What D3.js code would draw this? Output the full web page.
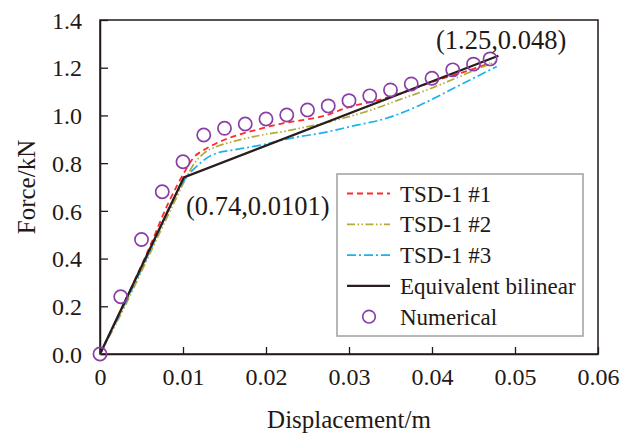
<!DOCTYPE html>
<html>
<head>
<meta charset="utf-8">
<script src="https://cdn.jsdelivr.net/npm/d3@7"></script>
<style>
  html, body { margin: 0; padding: 0; background: #fff; }
  svg text { font-family: "Liberation Serif", "Times New Roman", serif; fill: #231815; }
</style>
</head>
<body>
<svg id="chart" width="634" height="435"></svg>
<script>
// Force–displacement curves of three TSD-1 specimens, the equivalent bilinear model and numerical results
const xTicks = [0, 0.01, 0.02, 0.03, 0.04, 0.05, 0.06];
const xTickLabels = ["0", "0.01", "0.02", "0.03", "0.04", "0.05", "0.06"];
const yTicks = [0, 0.2, 0.4, 0.6, 0.8, 1.0, 1.2, 1.4];
const yTickLabels = ["0.0", "0.2", "0.4", "0.6", "0.8", "1.0", "1.2", "1.4"];

// test curves: [displacement (m), force (kN)]
const tsd1 = [[0,0],[0.003,0.22],[0.006,0.45],[0.0082,0.63],[0.0102,0.764],[0.0112,0.82],[0.0125,0.855],
  [0.014,0.883],[0.016,0.911],[0.018,0.932],[0.020,0.95],[0.022,0.967],[0.024,0.978],[0.027,0.998],
  [0.030,1.035],[0.0333,1.062],[0.036,1.09],[0.040,1.14],[0.0426,1.169],[0.045,1.195],[0.047,1.22]];
const tsd2 = [[0,0],[0.003,0.2],[0.006,0.42],[0.009,0.64],[0.0104,0.74],[0.0112,0.79],[0.0125,0.841],
  [0.014,0.869],[0.016,0.89],[0.018,0.907],[0.020,0.921],[0.022,0.932],[0.024,0.946],[0.0269,0.967],
  [0.030,0.995],[0.0333,1.03],[0.036,1.065],[0.040,1.115],[0.043,1.158],[0.0455,1.195],[0.0478,1.226]];
const tsd3 = [[0,0],[0.003,0.21],[0.006,0.43],[0.009,0.66],[0.0105,0.745],[0.0116,0.785],[0.0128,0.82],
  [0.014,0.841],[0.016,0.855],[0.018,0.867],[0.020,0.88],[0.022,0.897],[0.024,0.911],[0.0265,0.925],
  [0.0305,0.956],[0.0345,0.988],[0.0386,1.044],[0.0426,1.114],[0.0454,1.163],[0.0478,1.205]];
const bilinear = [[0,0],[0.0101,0.74],[0.048,1.25]];

// numerical model results
const numX = [0, 0.0025, 0.005, 0.0075, 0.01, 0.0125, 0.015, 0.0175, 0.02, 0.0225, 0.025,
  0.0275, 0.03, 0.0325, 0.035, 0.0375, 0.04, 0.0425, 0.045, 0.047];
const numY = [0, 0.24, 0.48, 0.68, 0.806, 0.918, 0.946, 0.964, 0.985, 1.002, 1.023,
  1.040, 1.062, 1.082, 1.107, 1.132, 1.156, 1.191, 1.215, 1.237];

const legendLabels = ["TSD-1 #1", "TSD-1 #2", "TSD-1 #3", "Equivalent bilinear", "Numerical"];
const yieldLabel = "(0.74,0.0101)";
const ultimateLabel = "(1.25,0.048)";

const svg = d3.select("#chart");
const L = 100, R = 598, T = 20, B = 354;
const x = d3.scaleLinear().domain([0, 0.06]).range([L, R]);
const y = d3.scaleLinear().domain([0, 1.4]).range([B, T]);
const ink = "#231815";

// frame
svg.append("rect").attr("x", L).attr("y", T).attr("width", R - L).attr("height", B - T)
  .attr("fill", "none").attr("stroke", ink).attr("stroke-width", 1.5);

// axes with inward ticks
const xAxis = d3.axisBottom(x).tickValues(xTicks).tickSizeInner(-7).tickSizeOuter(0)
  .tickFormat((d, i) => xTickLabels[i]).tickPadding(16);
const gx = svg.append("g").attr("transform", `translate(0,${B})`).call(xAxis);
gx.select(".domain").attr("stroke", ink).attr("stroke-width", 1.5);
gx.selectAll(".tick line").attr("stroke", ink).attr("stroke-width", 1.3);
gx.selectAll(".tick text").attr("font-size", 24).attr("font-family", "Liberation Serif")
  .attr("fill", ink).attr("dy", "0.71em").attr("y", 14);

const yAxis = d3.axisLeft(y).tickValues(yTicks).tickSizeInner(-8).tickSizeOuter(0)
  .tickFormat((d, i) => yTickLabels[i]);
const gy = svg.append("g").attr("transform", `translate(${L},0)`).call(yAxis);
gy.select(".domain").attr("stroke", ink).attr("stroke-width", 1.5);
gy.selectAll(".tick line").attr("stroke", ink).attr("stroke-width", 1.3);
gy.selectAll(".tick text").attr("font-size", 24).attr("font-family", "Liberation Serif")
  .attr("fill", ink).attr("x", -18).attr("dy", "0.34em");

// axis titles
svg.append("text").attr("x", (L + R) / 2).attr("y", 428).attr("text-anchor", "middle")
  .attr("font-size", 25).text("Displacement/m");
svg.append("text").attr("transform", "translate(35,187) rotate(-90)").attr("text-anchor", "middle")
  .attr("font-size", 25).text("Force/kN");

const line = d3.line().x(d => x(d[0])).y(d => y(d[1]));
const smooth = d3.line().x(d => x(d[0])).y(d => y(d[1])).curve(d3.curveMonotoneX);

const styles = [
  { color: "#ff2a2a", dash: "6,4", w: 1.8 },
  { color: "#b3aa3a", dash: "8,2.5,1.5,2.5,1.5,2.5", w: 1.7 },
  { color: "#1ab2ec", dash: "9,3,2,3", w: 1.7 },
  { color: "#2b1d1d", dash: null, w: 2.3 }
];
const series = [tsd1, tsd2, tsd3];

series.forEach((s, i) => {
  svg.append("path").datum(s).attr("d", smooth).attr("fill", "none")
    .attr("stroke", styles[i].color).attr("stroke-width", styles[i].w)
    .attr("stroke-dasharray", styles[i].dash);
});
svg.append("path").datum(bilinear).attr("d", line).attr("fill", "none")
  .attr("stroke", styles[3].color).attr("stroke-width", styles[3].w);

// numerical points
const numPts = numX.map((d, i) => [d, numY[i]]);
svg.append("g").selectAll("circle").data(numPts).join("circle")
  .attr("cx", d => x(d[0])).attr("cy", d => y(d[1])).attr("r", 6.6)
  .attr("fill", "none").attr("stroke", "#8a3ea8").attr("stroke-width", 1.7);

// point annotations
svg.append("text").attr("x", 186).attr("y", 215).attr("font-size", 26.5).text(yieldLabel);
svg.append("text").attr("x", 436).attr("y", 49).attr("font-size", 26.5).text(ultimateLabel);

// legend
const lg = svg.append("g");
lg.append("rect").attr("x", 337).attr("y", 174).attr("width", 246).attr("height", 162)
  .attr("fill", "#fff").attr("stroke", "#a0a0a0").attr("stroke-width", 1.5);
const rowY = i => 193.5 + i * 30.8;
legendLabels.forEach((lab, i) => {
  if (i < 4) {
    lg.append("line").attr("x1", 347).attr("x2", 390).attr("y1", rowY(i)).attr("y2", rowY(i))
      .attr("stroke", styles[i].color).attr("stroke-width", styles[i].w)
      .attr("stroke-dasharray", styles[i].dash);
  } else {
    lg.append("circle").attr("cx", 369).attr("cy", rowY(i)).attr("r", 6.3)
      .attr("fill", "none").attr("stroke", "#8a3ea8").attr("stroke-width", 1.7);
  }
  lg.append("text").attr("x", 400).attr("y", rowY(i)).attr("dy", "0.35em")
    .attr("font-size", 23).text(lab);
});
</script>
</body>
</html>
